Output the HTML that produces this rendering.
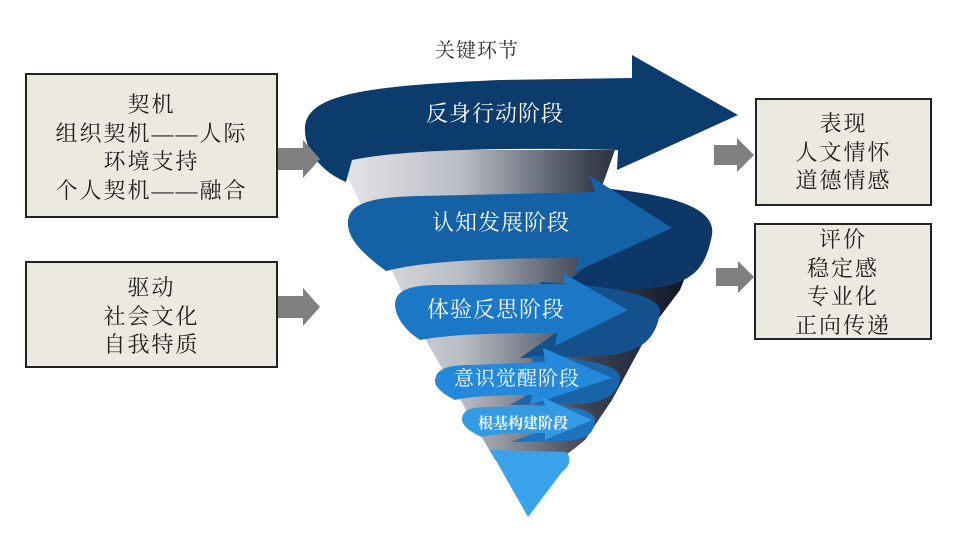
<!DOCTYPE html>
<html><head><meta charset="utf-8"><style>
body{margin:0;background:#fff;width:962px;height:535px;overflow:hidden;position:relative;font-family:"Liberation Serif","Noto Serif CJK SC","Noto Sans CJK SC",serif;}
.box{position:absolute;background:#ece9e0;border:2px solid #222;box-sizing:border-box;text-align:center;font-size:22px;color:#222;line-height:28.5px;letter-spacing:2px;}
</style></head><body>
<svg width="962" height="535" style="position:absolute;left:0;top:0">
<defs>
<linearGradient id="g" x1="0" y1="0" x2="1" y2="0">
<stop offset="0" stop-color="#e8e8ea"/><stop offset="0.35" stop-color="#b8bcc4"/><stop offset="0.7" stop-color="#3a4150"/><stop offset="1" stop-color="#0a1020"/>
</linearGradient>
</defs>
<path d="M335,150 L615,150 L600,192 L700,240 L680,290 L650,330 L612,400 L585,440 L560,460 L495,460 L420,330 Z" fill="url(#g)"/>
<!-- wraps -->
<path d="M600,188 C680,195 716,210 712,235 C705,272 690,286 640,289 L555,292 L600,255 Z" fill="#0d3766"/>
<path d="M540,282 C610,285 662,295 660,312 C656,340 640,354 600,356 L520,358 L560,330 Z" fill="#14508c"/>
<path d="M530,356 C590,358 622,366 620,378 C618,395 605,402 580,404 L510,405 L545,385 Z" fill="#1a64a8"/>
<path d="M540,404 C580,406 597,412 595,422 C593,435 585,440 565,441 L510,442 L550,428 Z" fill="#1f72bd"/>
<path d="M305,132 C302,95 360,86 500,80 L632,78 L632,55 L738,115 L617,170 L618,150 C500,147 400,150 352,160 L346,182 C322,172 306,152 305,132 Z" fill="#0b3c6c"/>
<path d="M348,226 C345,200 380,197 420,196 L595,192 L590,176 L672,228 L575,272 L578,258 C480,258 420,262 386,271 C366,256 350,242 348,226 Z" fill="#1461a6"/>
<path d="M395,305 C395,290 410,285 440,285 L565,284 L563,273 L628,310 L555,346 L557,333 C500,333 450,334 420,340 C405,330 396,318 395,305 Z" fill="#1b78c6"/>
<path d="M435,382 C435,370 445,365 470,365 L545,362 L543,348 L612,378 L530,405 L532,395 C500,395 470,396 455,400 C443,394 436,388 435,382 Z" fill="#2489db"/>
<path d="M462,420 C462,410 470,407 490,407 L545,406 L542,397 L592,420 L545,440 L545,433 C515,433 495,434 482,437 C470,432 463,426 462,420 Z" fill="#339ae3"/>
<path d="M490,450 L566,452 C572,458 570,466 562,472 L528,517 Z" fill="#3aa2ea"/>
<g fill="#fff" font-family="Liberation Serif,'Noto Serif CJK SC','Noto Sans CJK SC',serif" text-anchor="middle">
<text x="495" y="121" font-size="22" letter-spacing="1">反身行动阶段</text>
<text x="501" y="230" font-size="22" letter-spacing="1">认知发展阶段</text>
<text x="496" y="317" font-size="22" letter-spacing="1">体验反思阶段</text>
<text x="517" y="385" font-size="20" letter-spacing="1">意识觉醒阶段</text>
<text x="523" y="428" font-size="15" font-weight="bold">根基构建阶段</text>
</g>
<text x="477" y="57" font-size="20" fill="#333" text-anchor="middle" letter-spacing="1">关键环节</text>
<g fill="#808080">
<path d="M278,148 L303,148 L303,140 L320,159 L303,178 L303,170 L278,170 Z"/>
<path d="M278,296 L303,296 L303,288 L320,307 L303,326 L303,318 L278,318 Z"/>
<path d="M714,145 L737,145 L737,138 L754,155 L737,172 L737,165 L714,165 Z"/>
<path d="M716,268 L738,268 L738,261 L754,277 L738,293 L738,286 L716,286 Z"/>
</g>
</svg>
<div class="box" style="left:25px;top:73px;width:253px;height:145px;padding-top:16px">契机<br>组织契机——人际<br>环境支持<br>个人契机——融合</div>
<div class="box" style="left:25px;top:261px;width:253px;height:107px;padding-top:11px">驱动<br>社会文化<br>自我特质</div>
<div class="box" style="left:755px;top:98px;width:177px;height:108px;padding-top:10px">表现<br>人文情怀<br>道德情感</div>
<div class="box" style="left:754px;top:223px;width:178px;height:117px;padding-top:1px">评价<br>稳定感<br>专业化<br>正向传递</div>
</body></html>
